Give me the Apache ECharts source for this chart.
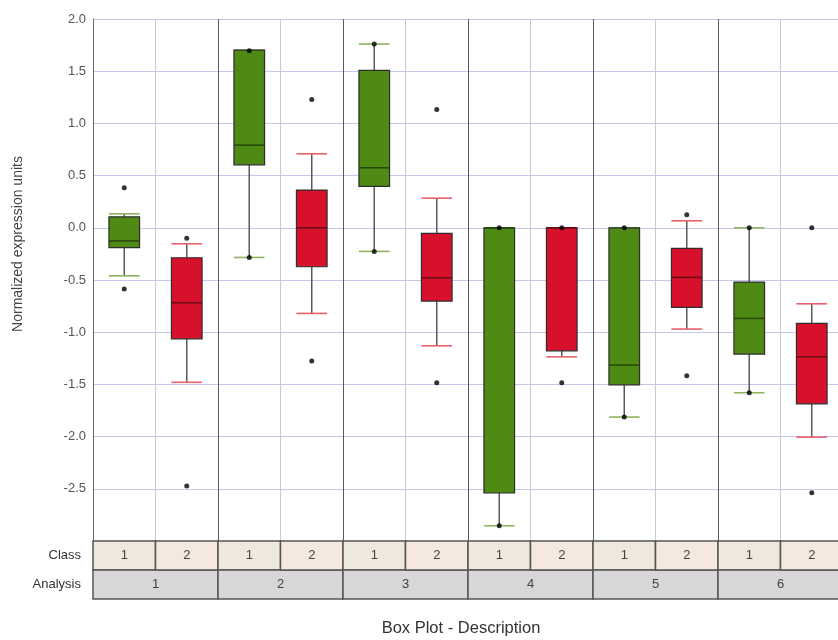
<!DOCTYPE html>
<html>
<head>
<meta charset="utf-8">
<title>Box Plot - Description</title>
<script src="https://cdn.jsdelivr.net/npm/echarts@6/dist/echarts.min.js"></script>
<style>
  html, body { margin: 0; padding: 0; background: #ffffff; }
  #chart { width: 838px; height: 640px; }
</style>
</head>
<body>
<div id="chart"></div>
<script>
// Column labels: class within each analysis
const classLabels = ['1', '2', '1', '2', '1', '2', '1', '2', '1', '2', '1', '2'];
const analysisLabels = ['1', '2', '3', '4', '5', '6'];

// Box statistics per column
const lowWhisker  = [-0.46, -1.48, -0.284, -0.82, -0.226, -1.13, -2.854, -1.236, -1.813, -0.97, -1.58, -2.005];
const lowerQuart  = [-0.19, -1.063, 0.603, -0.373, 0.397, -0.702, -2.54, -1.178, -1.504, -0.762, -1.21, -1.686];
const medians     = [-0.125, -0.718, 0.792, 0.0, 0.575, -0.479, 0.0, 0.0, -1.315, -0.475, -0.868, -1.236];
const upperQuart  = [0.105, -0.287, 1.702, 0.361, 1.508, -0.054, 0.0, 0.0, 0.0, -0.197, -0.52, -0.916];
const highWhisker = [0.134, -0.153, 1.702, 0.709, 1.76, 0.284, 0.0, 0.0, 0.0, 0.067, 0.0, -0.728];

// Individual points drawn as dots (outliers and extreme values)
const pointValues = [
  [0.383, -0.587],
  [-0.10, -2.474],
  [1.695, -0.284],
  [1.23, -1.277],
  [1.76, -0.226],
  [1.134, -1.485],
  [0.0, -2.854],
  [0.0, -1.485],
  [0.0, -1.813],
  [0.125, -1.417],
  [0.0, -1.58],
  [0.0, -2.538]
];

const yTicks = { min: -3, max: 2, step: 0.5 };

const FONT = '"Liberation Sans", Arial, sans-serif';
const palette = {
  '1': { fill: '#4f8a14', cap: '#8fb35e', median: '#2a4a0a' },
  '2': { fill: '#d7112b', cap: '#e8606c', median: '#6e0a16' }
};

const boxData = classLabels.map((c, i) => [i, lowWhisker[i], lowerQuart[i], medians[i], upperQuart[i], highWhisker[i], c]);
const scatterData = [];
pointValues.forEach((vals, i) => vals.forEach(v => scatterData.push([i, v])));
const tableData = classLabels.map((c, i) => [i, c]);

function renderBox(params, api) {
  const x = api.value(0);
  const cls = String(api.value(6));
  const col = palette[cls];
  const bandW = api.size([1, 0])[0];
  const boxW = bandW * 0.49;
  const pLow = api.coord([x, api.value(1)]);
  const pQ1 = api.coord([x, api.value(2)]);
  const pMed = api.coord([x, api.value(3)]);
  const pQ3 = api.coord([x, api.value(4)]);
  const pHigh = api.coord([x, api.value(5)]);
  const cx = pMed[0];
  const half = boxW / 2;
  const whiskerStyle = { stroke: '#5a5a5a', lineWidth: 1.5 };
  const capStyle = { stroke: col.cap, lineWidth: 1.6 };
  return {
    type: 'group',
    children: [
      { type: 'line', shape: { x1: cx, y1: pLow[1], x2: cx, y2: pQ1[1] }, style: whiskerStyle },
      { type: 'line', shape: { x1: cx, y1: pQ3[1], x2: cx, y2: pHigh[1] }, style: whiskerStyle },
      { type: 'line', shape: { x1: cx - half, y1: pLow[1], x2: cx + half, y2: pLow[1] }, style: capStyle },
      { type: 'line', shape: { x1: cx - half, y1: pHigh[1], x2: cx + half, y2: pHigh[1] }, style: capStyle },
      { type: 'rect', shape: { x: cx - half, y: pQ3[1], width: boxW, height: pQ1[1] - pQ3[1] },
        style: { fill: col.fill, stroke: '#2e2e2e', lineWidth: 1.2 } },
      { type: 'line', shape: { x1: cx - half, y1: pMed[1], x2: cx + half, y2: pMed[1] },
        style: { stroke: col.median, lineWidth: 1.6 } }
    ]
  };
}

function renderTable(params, api) {
  const i = api.value(0);
  const cs = params.coordSys;
  const bandW = api.size([1, 0])[0];
  const left = api.coord([i, 0])[0] - bandW / 2;
  const top = cs.y + cs.height;
  const rowH = 29;
  const border = { stroke: '#555555', lineWidth: 1.5 };
  const cls = classLabels[i];
  const children = [
    { type: 'rect', shape: { x: left, y: top, width: bandW, height: rowH },
      style: Object.assign({ fill: cls === '1' ? '#efe9dd' : '#f5e9df' }, border) },
    { type: 'text', style: { x: left + bandW / 2, y: top + rowH / 2, text: cls, align: 'center', verticalAlign: 'middle',
        fill: '#444444', font: '13px ' + FONT } }
  ];
  if (i % 2 === 0) {
    children.push(
      { type: 'rect', shape: { x: left, y: top + rowH, width: bandW * 2, height: rowH },
        style: Object.assign({ fill: '#d8d6d8' }, border) },
      { type: 'text', style: { x: left + bandW, y: top + rowH * 1.5, text: analysisLabels[i / 2], align: 'center',
          verticalAlign: 'middle', fill: '#444444', font: '13px ' + FONT } }
    );
  }
  if (i === 0) {
    children.push(
      { type: 'text', style: { x: left - 12, y: top + rowH / 2, text: 'Class', align: 'right', verticalAlign: 'middle',
          fill: '#333333', font: '13px ' + FONT } },
      { type: 'text', style: { x: left - 12, y: top + rowH * 1.5, text: 'Analysis', align: 'right', verticalAlign: 'middle',
          fill: '#333333', font: '13px ' + FONT } }
    );
  }
  return { type: 'group', children };
}

const chart = echarts.init(document.getElementById('chart'), null, { renderer: 'canvas' });
chart.setOption({
  animation: false,
  backgroundColor: '#ffffff',
  textStyle: { fontFamily: FONT },
  // the plot runs past the right edge of the canvas, so the last column is cut off
  grid: { left: 93, width: 750, top: 19, bottom: 99, containLabel: false, outerBoundsMode: 'none' },
  xAxis: {
    type: 'category',
    data: classLabels.map((c, i) => i),
    boundaryGap: true,
    axisLine: { show: false },
    axisTick: { show: false },
    axisLabel: { show: false },
    splitLine: { show: true, interval: 0, lineStyle: { color: ['#5c5c5c', '#c9c9dc'], width: 1 } }
  },
  yAxis: {
    type: 'value',
    min: yTicks.min,
    max: yTicks.max,
    interval: yTicks.step,
    axisLine: { show: true, lineStyle: { color: '#6a6a6a', width: 1 } },
    axisTick: { show: false },
    axisLabel: {
      margin: 7,
      color: '#555555',
      fontSize: 13,
      fontFamily: FONT,
      formatter: v => (v <= yTicks.min ? '' : v.toFixed(1))
    },
    splitLine: { show: true, lineStyle: { color: '#c6c6ee', width: 1 } }
  },
  graphic: [
    { type: 'text', x: 18, y: 244, rotation: Math.PI / 2,
      style: { text: 'Normalized expression units', fill: '#444444', font: '14px ' + FONT,
        align: 'center', verticalAlign: 'middle' } },
    { type: 'text', x: 461, y: 628,
      style: { text: 'Box Plot - Description', fill: '#333333', font: '16.5px ' + FONT,
        align: 'center', verticalAlign: 'middle' } }
  ],
  series: [
    { type: 'custom', name: 'boxes', renderItem: renderBox, data: boxData, z: 3,
      encode: { x: 0, y: [1, 2, 3, 4, 5] } },
    { type: 'scatter', name: 'points', data: scatterData, symbol: 'circle', symbolSize: 5,
      itemStyle: { color: '#000000' }, z: 5 },
    { type: 'custom', name: 'table', renderItem: renderTable, data: tableData, clip: false, silent: true, z: 2,
      encode: { x: 0 } }
  ]
});
</script>
</body>
</html>
